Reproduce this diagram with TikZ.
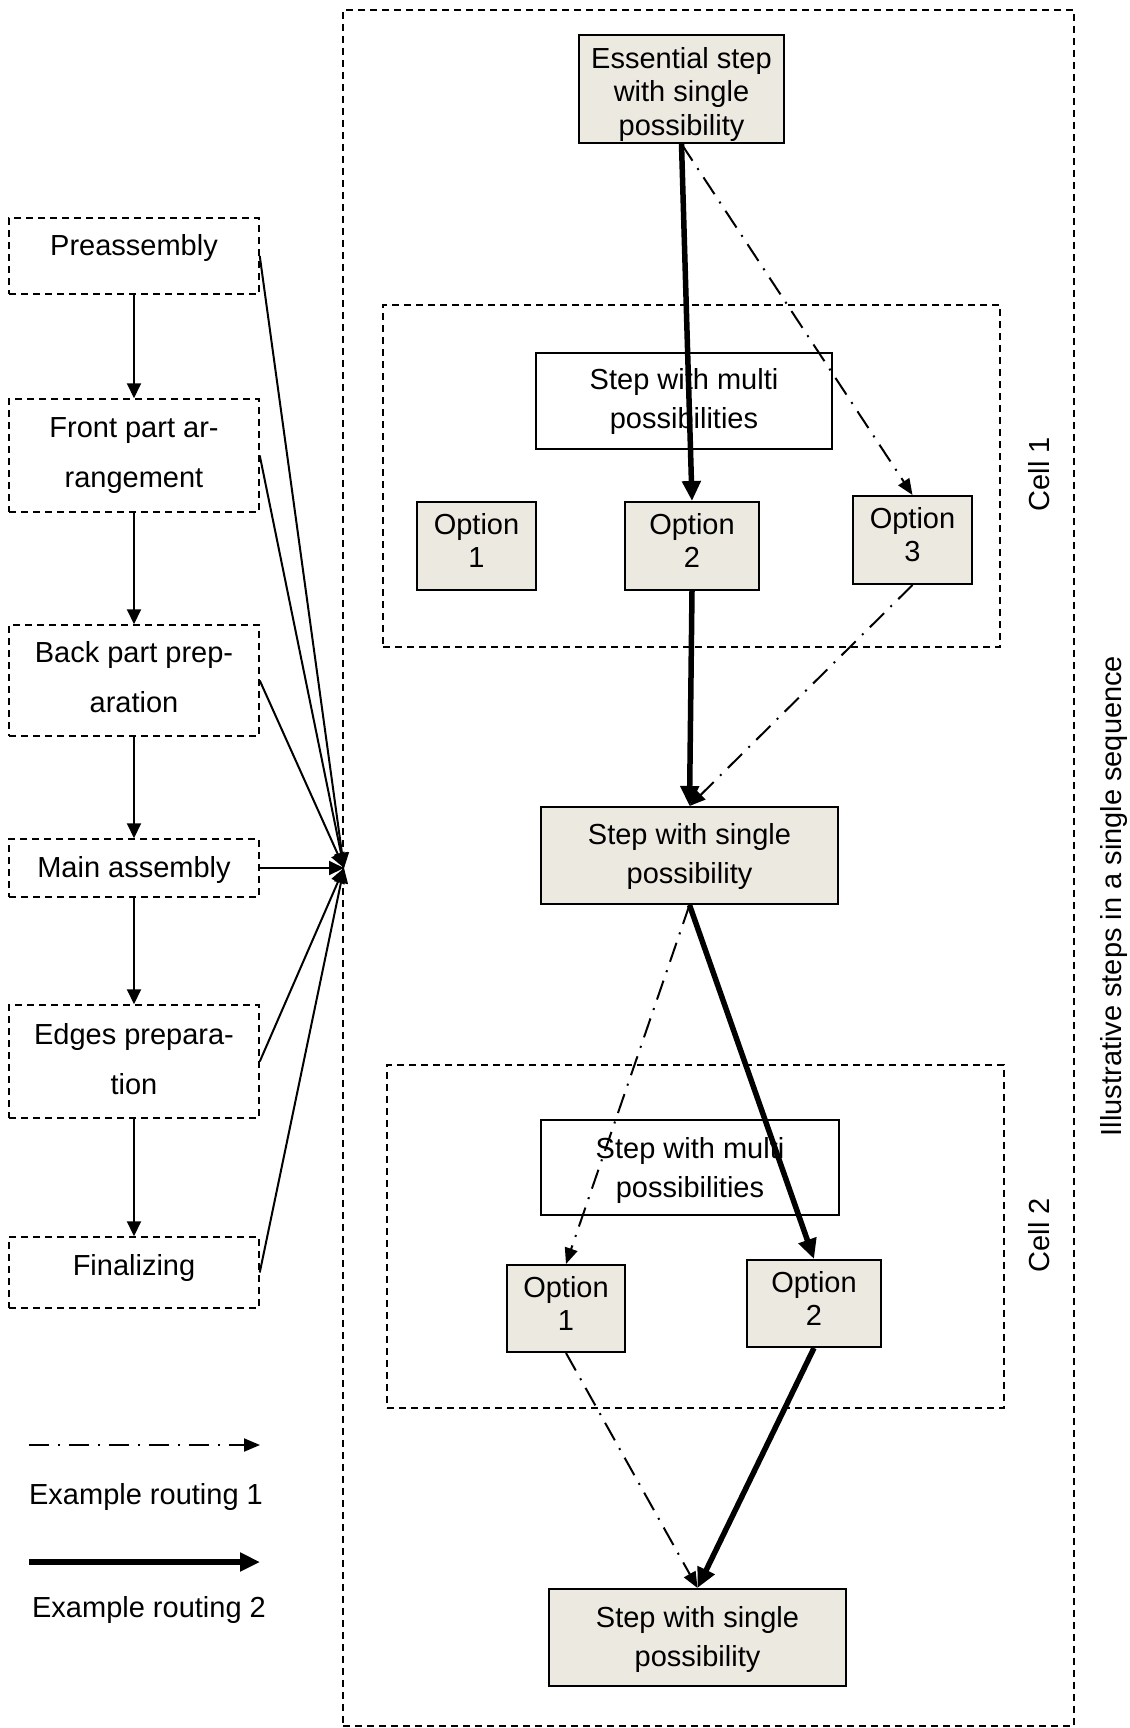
\documentclass[tikz,border=0pt]{standalone}
\usepackage{fontspec}
\setmainfont{Liberation Sans}
\usetikzlibrary{arrows.meta}
\definecolor{stepfill}{RGB}{236,233,224}
\begin{document}
\begin{tikzpicture}[x=1pt,y=-1pt,
  every node/.style={inner sep=0pt, font=\fontsize{29}{33}\selectfont},
  framebox/.style={draw, line width=1.5pt, dash pattern=on 7pt off 5pt},
  phase/.style={framebox, minimum width=250pt},
  phasetext/.style={align=center, font=\fontsize{29}{50}\selectfont},
  single/.style={draw, line width=2pt, fill=stepfill},
  multi/.style={draw, line width=2pt, fill=white},
  option/.style={draw, line width=2pt, fill=stepfill},
  steptext/.style={align=center, font=\fontsize{29}{39}\selectfont},
  optiontext/.style={align=center, font=\fontsize{29}{33}\selectfont},
  flow/.style={line width=2pt, -{Triangle[length=15pt,width=14pt]}},
  route1/.style={line width=2pt, dash pattern=on 20pt off 9pt on 2pt off 9pt,
    -{Triangle[length=16pt,width=13pt]}},
  route2/.style={line width=5.5pt, -{Triangle[length=20pt,width=18pt]}}
]
\useasboundingbox (0,0) rectangle (1129,1728);

% assembly phases
\node[phase, minimum height=76pt]  (pre)   at (134,256)    {};
\node[phase, minimum height=113pt] (front) at (134,455.5)  {};
\node[phase, minimum height=111pt] (back)  at (134,680.5)  {};
\node[phase, minimum height=58pt]  (main)  at (134,868)    {};
\node[phase, minimum height=113pt] (edges) at (134,1061.5) {};
\node[phase, minimum height=71pt]  (final) at (134,1272.5) {};
\node[phasetext] (pre-t)   at ([yshift=7.7pt]pre.center)   {Preassembly};
\node[phasetext] (front-t) at (front.center)               {Front part ar-\\rangement};
\node[phasetext] (back-t)  at ([yshift=3pt]back.center)    {Back part prep-\\aration};
\node[phasetext] (main-t)  at ([yshift=-2pt]main.center)   {Main assembly};
\node[phasetext] (edges-t) at ([yshift=2pt]edges.center)   {Edges prepara-\\tion};
\node[phasetext] (final-t) at ([yshift=4.4pt]final.center) {Finalizing};

\draw[flow] (pre) -- (front);
\draw[flow] (front) -- (back);
\draw[flow] (back) -- (main);
\draw[flow] (main) -- (edges);
\draw[flow] (edges) -- (final);

% sequence frame and cells
\node[framebox, minimum width=731pt, minimum height=1716pt] (seq) at (708.5,868) {};
\node[framebox, minimum width=617pt, minimum height=342pt] (cell1) at (691.5,476) {};
\node[framebox, minimum width=617pt, minimum height=343pt] (cell2) at (695.5,1236.5) {};
\coordinate (merge) at (344,868);

\draw[flow] (pre.east) -- (merge);
\draw[flow] (front.east) -- (merge);
\draw[flow] (back.east) -- (merge);
\draw[flow] (main.east) -- (merge);
\draw[flow] (edges.east) -- (merge);
\draw[flow] (final.east) -- (merge);

% steps
\node[single, minimum width=205pt, minimum height=108pt] (ess)    at (681.5,89)    {};
\node[multi,  minimum width=296pt, minimum height=96pt]  (multiA) at (684,401)     {};
\node[option, minimum width=119pt, minimum height=88pt]  (oA1)    at (476.5,546)   {};
\node[option, minimum width=134pt, minimum height=88pt]  (oA2)    at (692,546)     {};
\node[option, minimum width=119pt, minimum height=88pt]  (oA3)    at (912.5,540)   {};
\node[single, minimum width=297pt, minimum height=97pt]  (mid)    at (689.5,855.5) {};
\node[multi,  minimum width=298pt, minimum height=95pt]  (multiB) at (690,1167.5)  {};
\node[option, minimum width=118pt, minimum height=87pt]  (oB1)    at (566,1308.5)  {};
\node[option, minimum width=134pt, minimum height=87pt]  (oB2)    at (814,1303.5)  {};
\node[single, minimum width=297pt, minimum height=97pt]  (last)   at (697.5,1637.5) {};

\node[steptext, font=\fontsize{29}{33.5}\selectfont] (ess-t) at ([yshift=-5.5pt]ess.center)
  {Essential step\\with single\\possibility};
\node[steptext] (multiA-t) at (multiA.center) {Step with multi\\possibilities};
\node[optiontext] (oA1-t) at ([yshift=5.5pt]oA1.center) {Option\\1};
\node[optiontext] (oA2-t) at ([yshift=5.5pt]oA2.center) {Option\\2};
\node[optiontext] (oA3-t) at ([yshift=5.5pt]oA3.center) {Option\\3};
\node[steptext] (mid-t) at ([yshift=-1pt]mid.center) {Step with single\\possibility};
\node[steptext] (multiB-t) at ([yshift=-2.5pt]multiB.center) {Step with multi\\possibilities};
\node[optiontext] (oB1-t) at ([yshift=5.5pt]oB1.center) {Option\\1};
\node[optiontext] (oB2-t) at ([yshift=5.5pt]oB2.center) {Option\\2};
\node[steptext] (last-t) at ([yshift=-1.5pt]last.center) {Step with single\\possibility};

% labels
\node[rotate=90] (lab1) at (1039,474)  {Cell 1};
\node[rotate=90] (lab2) at (1039,1235) {Cell 2};
\node[rotate=90] (labseq) at (1114,896) {Illustrative steps in a single sequence};

% routings
\draw[route2] (ess.south) -- (oA2.north);
\draw[route2] (oA2.south) -- (mid.north);
\draw[route2] (mid.south) -- (oB2.north);
\draw[route2] (oB2.south) -- (last.north);
\draw[route1] (ess.south) -- (oA3.north);
\draw[route1] (oA3.south) -- (mid.north);
\draw[route1] (mid.south) -- (oB1.north);
\draw[route1] (oB1.south) -- (last.north);

% legend
\coordinate (k1a) at (29,1445);
\coordinate (k1b) at (260,1445);
\coordinate (k2a) at (29,1562);
\coordinate (k2b) at (260,1562);
\draw[route1] (k1a) -- (k1b);
\draw[route2] (k2a) -- (k2b);
\node (key1) at (146,1497) {Example routing 1};
\node (key2) at (149,1610) {Example routing 2};
\end{tikzpicture}
\end{document}
